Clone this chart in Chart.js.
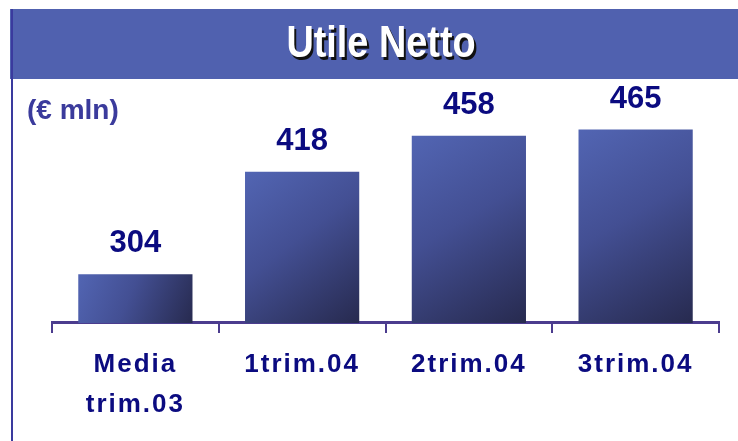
<!DOCTYPE html>
<html>
<head>
<meta charset="utf-8">
<script src="https://cdn.jsdelivr.net/npm/chart.js@4/dist/chart.umd.min.js"></script>
<style>
  html, body { margin: 0; padding: 0; background: #fff; }
  #wrap { width: 738px; height: 441px; }
</style>
</head>
<body>
<div id="wrap"><canvas id="myChart" width="738" height="441"></canvas></div>
<script>
// data
var categories = [['Media', 'trim.03'], '1trim.04', '2trim.04', '3trim.04'];
var utile = [304, 418, 458, 465];
var titleText = 'Utile Netto';
var unitText = '(\u20ac mln)';

var FONT = "'Liberation Sans', Arial, sans-serif";
var NAVY = '#0b0b80';

// header band, left frame line and title
const frame = {
    id: 'frame',
    beforeDraw(chart) {
        const ctx = chart.ctx;
        ctx.save();
        ctx.fillStyle = '#5061af';
        ctx.fillRect(10, 9, chart.width - 10, 70);
        ctx.fillStyle = '#3a3a9e';
        ctx.fillRect(11, 9, 2, chart.height - 9);

        // title, a bit condensed with a dark shadow
        ctx.font = 'bold 44px ' + FONT;
        ctx.textAlign = 'center';
        ctx.textBaseline = 'middle';
        ctx.translate(chart.width / 2 + 12, 45);
        ctx.scale(0.86, 1);
        ctx.fillStyle = '#111';
        ctx.fillText(titleText, 2.5, 2.5);
        ctx.fillStyle = '#fff';
        ctx.fillText(titleText, 0, 0);
        ctx.restore();

        ctx.save();
        ctx.font = 'bold 28px ' + FONT;
        ctx.fillStyle = '#3b3b9c';
        ctx.textAlign = 'left';
        ctx.textBaseline = 'middle';
        ctx.fillText(unitText, 27, 111);
        ctx.restore();

        // wider letters for the category labels
        ctx.letterSpacing = '2px';
    },
    beforeDatasetsDraw(chart) {
        chart.ctx.letterSpacing = '0px';
    },
    afterDatasetsDraw(chart) {
        const ctx = chart.ctx;
        const meta = chart.getDatasetMeta(0);
        ctx.save();
        ctx.font = 'bold 31px ' + FONT;
        ctx.fillStyle = NAVY;
        ctx.textAlign = 'center';
        ctx.textBaseline = 'bottom';
        meta.data.forEach(function (bar, i) {
            ctx.fillText(String(utile[i]), bar.x, bar.y - 15);
        });
        ctx.restore();
    }
};

function barGradient(context) {
    const chart = context.chart;
    const xs = chart.scales.x, ys = chart.scales.y;
    if (!xs || !ys || !chart.chartArea || context.dataIndex === undefined) {
        return '#3f4a8f';
    }
    const i = context.dataIndex;
    const w = (xs.width / categories.length) * 0.685;
    const cx = xs.getPixelForValue(i);
    const top = ys.getPixelForValue(utile[i]);
    const bottom = ys.getPixelForValue(ys.min);
    const g = chart.ctx.createLinearGradient(cx - w / 2, top, cx + w / 2, bottom);
    g.addColorStop(0, '#5265b3');
    g.addColorStop(0.45, '#434f93');
    g.addColorStop(1, '#272a4f');
    return g;
}

var ctx = document.getElementById('myChart').getContext('2d');
var chart = new Chart(ctx, {
    type: 'bar',
    data: {
        labels: categories,
        datasets: [{
            label: titleText,
            data: utile,
            backgroundColor: barGradient,
            borderWidth: 0,
            barPercentage: 0.685,
            categoryPercentage: 1
        }]
    },
    options: {
        responsive: false,
        animation: false,
        events: [],
        layout: {
            padding: { left: 52, right: 19, top: 98, bottom: 4 }
        },
        plugins: {
            legend: { display: false },
            title: { display: false },
            tooltip: { enabled: false }
        },
        scales: {
            x: {
                grid: {
                    display: true,
                    drawOnChartArea: false,
                    drawTicks: true,
                    tickLength: 10,
                    color: '#4b3c8e',
                    lineWidth: 2
                },
                border: { display: true, color: '#4b3c8e', width: 3 },
                ticks: {
                    color: NAVY,
                    padding: 12,
                    font: { family: FONT, size: 26, weight: 'bold', lineHeight: 1.54 }
                }
            },
            y: {
                display: false,
                min: 250,
                max: 500
            }
        }
    },
    plugins: [frame]
});
</script>
</body>
</html>
